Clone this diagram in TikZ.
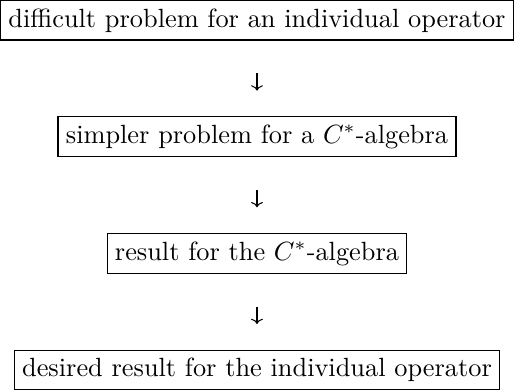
\documentclass[tikz,border=0pt]{standalone}
\usepackage{amsmath,amssymb}
\usetikzlibrary{arrows.meta,positioning}
\tikzset{
  bx/.style = {draw, line width=0.4pt, inner sep=3pt, font=\normalsize},
  ar/.style = {-{Computer Modern Rightarrow[length=2pt,width=4.5pt]}, line width=0.4pt,
               shorten <=12.5pt, shorten >=9.8pt},
}
\begin{document}
\begin{tikzpicture}[node distance=28.8pt]
  \node[bx] (hard) {difficult problem for an individual operator};
  \node[bx, below=of hard] (simp) {simpler problem for a $C^*$-algebra};
  \node[bx, below=of simp] (res) {result for the $C^*$-algebra};
  \node[bx, below=of res] (goal) {desired result for the individual operator};
  % arrows between the steps
  \draw[ar] (hard) -- (simp);
  \draw[ar] (simp) -- (res);
  \draw[ar] (res) -- (goal);
\end{tikzpicture}
\end{document}
